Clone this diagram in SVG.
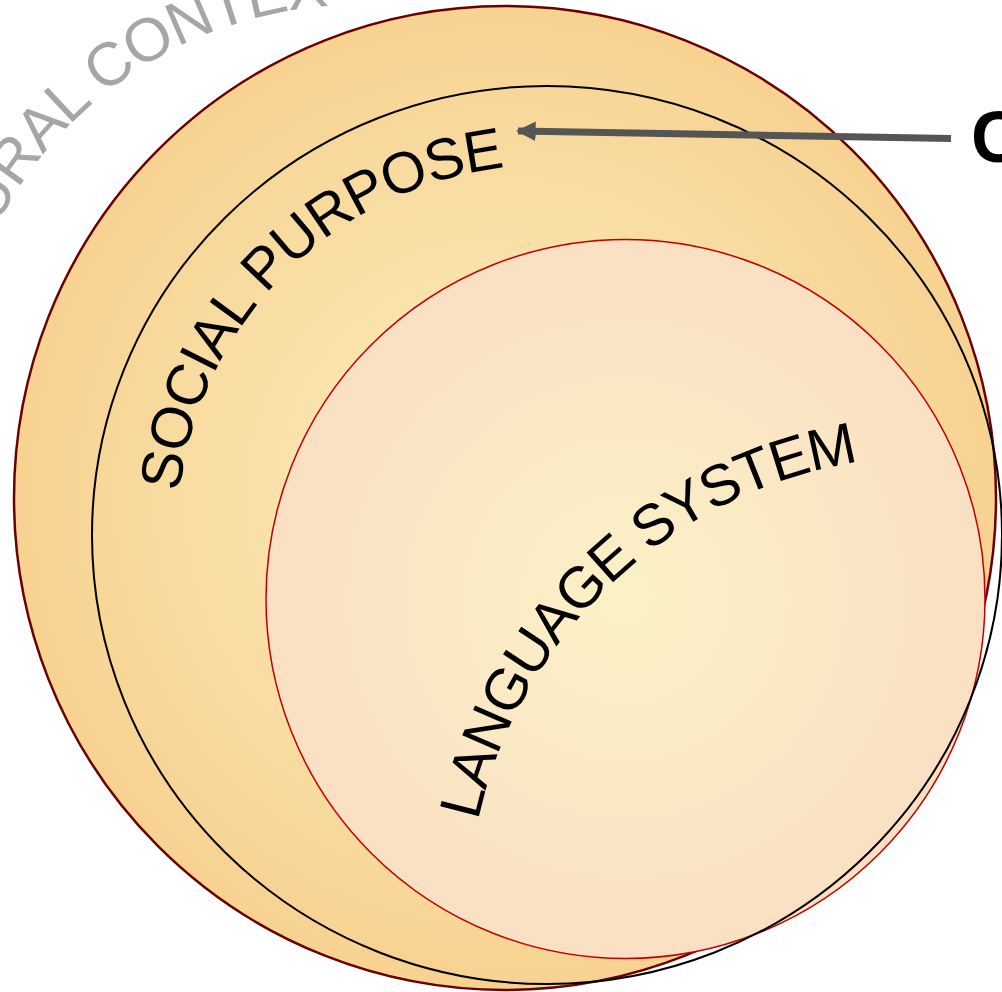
<svg xmlns="http://www.w3.org/2000/svg" xmlns:xlink="http://www.w3.org/1999/xlink" width="1002" height="992" viewBox="0 0 1002 992">
  <style>
    .lbl { font-family: "Liberation Sans", Arial, sans-serif; }
    .ring-text { fill: #000000; font-size: 58px; }
    .outer-text { fill: #A6A6A6; font-size: 61px; }
    .side-text { fill: #000000; font-size: 72px; font-weight: bold; }
  </style>
  <defs>
    <radialGradient id="gradOuter" cx="0.5" cy="0.5" r="0.5">
      <stop offset="0" stop-color="#FCEFC0"/>
      <stop offset="1" stop-color="#F7D291"/>
    </radialGradient>
    <radialGradient id="gradInner" cx="0.5" cy="0.5" r="0.5">
      <stop offset="0" stop-color="#FCF1C6"/>
      <stop offset="1" stop-color="#F9E0C3"/>
    </radialGradient>
    <marker id="arrowHead" viewBox="0 0 10 10" refX="9" refY="5" markerWidth="2.8" markerHeight="2.9" orient="auto" markerUnits="strokeWidth">
      <path d="M0,0 L10,5 L0,10 z" fill="#555555"/>
    </marker>
    <!-- baseline arcs for the curved labels (clockwise, starting at 9 o'clock) -->
    <path id="arcOuter" d="M -48,411 A 406 406 0 0 1 764,411 A 406 406 0 0 1 -48,411"/>
    <path id="arcSocial" d="M 177,535 A 370 370 0 0 1 917,535 A 370 370 0 0 1 177,535"/>
    <path id="arcLanguage" d="M 467,921 A 465 465 0 0 1 1397,921 A 465 465 0 0 1 467,921"/>
  </defs>

  <rect width="1002" height="992" fill="#FFFFFF"/>

  <g id="cultural-context">
    <ellipse cx="505" cy="498" rx="491" ry="492" fill="url(#gradOuter)" stroke="#6B0000" stroke-width="2.5"/>
    <text class="lbl outer-text" letter-spacing="-1.5"><textPath xlink:href="#arcOuter" startOffset="192">URAL CONTEX</textPath></text>
  </g>

  <g id="language-system">
    <circle cx="625.5" cy="599" r="359.5" fill="url(#gradInner)" stroke="#C00000" stroke-width="1.5"/>
    <text class="lbl ring-text" letter-spacing="-1.5"><textPath xlink:href="#arcLanguage" startOffset="101">LANGUAGE SYSTEM</textPath></text>
  </g>

  <g id="social-purpose">
    <ellipse cx="547" cy="535" rx="455" ry="449" fill="none" stroke="#000000" stroke-width="2"/>
    <text class="lbl ring-text" letter-spacing="-1.1"><textPath xlink:href="#arcSocial" startOffset="43">SOCIAL PURPOSE</textPath></text>
  </g>

  <g id="side-label">
    <text class="lbl side-text" x="971" y="162">C</text>
  </g>

  <g id="connectors">
    <line x1="951" y1="138.5" x2="518" y2="131" stroke="#555555" stroke-width="7" marker-end="url(#arrowHead)"/>
  </g>
</svg>
